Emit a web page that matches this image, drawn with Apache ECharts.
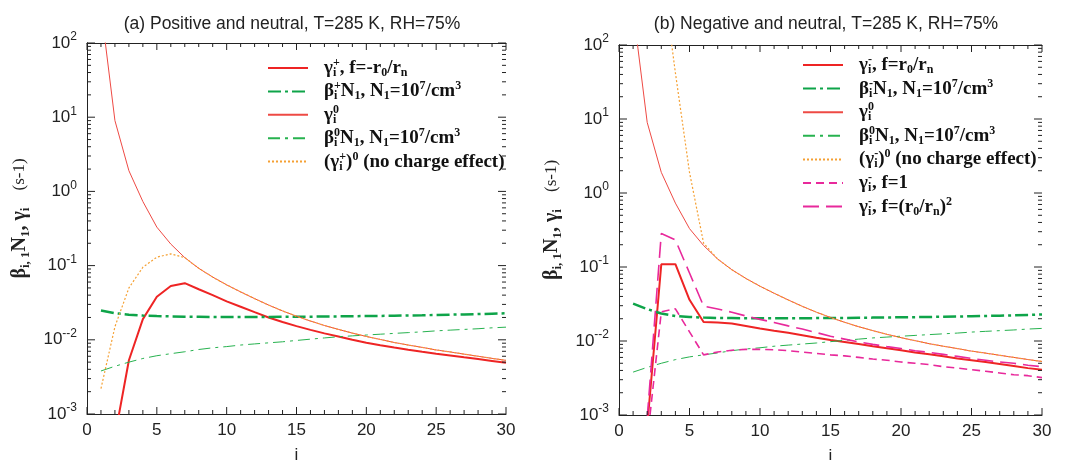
<!DOCTYPE html>
<html><head><meta charset="utf-8">
<script src="https://cdn.jsdelivr.net/npm/echarts@6/dist/echarts.min.js"></script>
<style>html,body{margin:0;padding:0;background:#fff;overflow:hidden}
#wrap{position:relative;width:1065px;height:460px}
#pa{position:absolute;left:0;top:0;width:532px;height:460px}
#pb{position:absolute;left:532px;top:0;width:533px;height:460px}</style>
</head><body><div id="wrap"><div id="pa"></div><div id="pb"></div></div>
<script>
// ---------- data ----------
const iVals = [1,2,3,4,5,6,7,8,9,10,11,12,13,14,15,16,17,18,19,20,21,22,23,24,25,26,27,28,29,30];

// shared neutral curves
const gamma0 = [300,9.0,1.9,0.73,0.33,0.195,0.128,0.092,0.070,0.055,0.0442,0.0359,0.0294,0.0245,0.0208,0.0179,0.0156,0.0138,0.0123,0.0111,0.0101,0.0092,0.0085,0.0079,0.0073,0.00686,0.00641,0.0060,0.00562,0.00528];
const beta0N1 = [0.0038,0.0044,0.0050,0.0056,0.0061,0.0065,0.0069,0.0074,0.0078,0.0081,0.0085,0.0088,0.0091,0.0094,0.0098,0.0102,0.0106,0.0110,0.0113,0.0116,0.0119,0.0122,0.0125,0.0128,0.0132,0.0135,0.0138,0.0141,0.0145,0.0148];

// (a) positive
const gammaPlus = [null,0.0005,0.0053,0.019,0.038,0.053,0.058,0.048,0.040,0.033,0.0279,0.0236,0.0200,0.0174,0.0153,0.0136,0.0122,0.0111,0.0100,0.0091,0.00845,0.00787,0.00736,0.0069,0.0065,0.00614,0.0058,0.0055,0.00519,0.0049];
const betaPlusN1 = [0.0248,0.0228,0.0218,0.0212,0.0209,0.0207,0.0205,0.0204,0.0203,0.0203,0.0203,0.0203,0.0203,0.0204,0.0204,0.0205,0.0206,0.0207,0.0208,0.0209,0.0210,0.0211,0.0213,0.0214,0.0216,0.0218,0.0220,0.0222,0.0225,0.0228];
const gammaPlusNoCharge = [0.0022,0.015,0.050,0.095,0.130,0.144,0.128,0.092,0.070,0.055,0.0442,0.0359,0.0294,0.0245,0.0208,0.0179,0.0156,0.0138,0.0123,0.0111,0.0101,0.0092,0.0085,0.0079,0.0073,0.00686,0.00641,0.0060,0.00562,0.00528];

// (b) negative
const gammaMinus = [null,0.0007,0.109,0.109,0.036,0.0181,0.0178,0.0172,0.0160,0.0148,0.0138,0.0129,0.0120,0.0111,0.0103,0.0097,0.0091,0.0085,0.0080,0.0075,0.0070,0.0066,0.0062,0.0058,0.0055,0.0052,0.0049,0.0046,0.0043,0.0041];
const betaMinusN1 = [0.032,0.027,0.0235,0.0218,0.0211,0.0207,0.0205,0.0204,0.0203,0.0203,0.0203,0.0203,0.0203,0.0204,0.0204,0.0205,0.0206,0.0207,0.0208,0.0209,0.0210,0.0211,0.0213,0.0214,0.0216,0.0218,0.0220,0.0222,0.0225,0.0228];
const gammaMinusNoCharge = [null,null,1200,42,1.9,0.21,0.128,0.092,0.070,0.055,0.0442,0.0359,0.0294,0.0245,0.0208,0.0179,0.0156,0.0138,0.0123,0.0111,0.0101,0.0092,0.0085,0.0079,0.0073,0.00686,0.00641,0.0060,0.00562,0.00528];
const gammaMinusF1 = [null,0.00045,0.0248,0.0272,0.0133,0.0065,0.0071,0.0075,0.0077,0.0077,0.0076,0.0074,0.0071,0.0068,0.0065,0.0063,0.0060,0.0057,0.0055,0.0052,0.0050,0.0048,0.0045,0.0043,0.0041,0.0039,0.0037,0.0035,0.0034,0.0032];
const gammaMinusF2 = [null,0.0009,0.284,0.232,0.083,0.0296,0.0270,0.0245,0.0218,0.0196,0.0178,0.0160,0.0145,0.0130,0.0116,0.0106,0.0097,0.0090,0.0084,0.0079,0.0074,0.0070,0.0066,0.0062,0.0058,0.0055,0.0052,0.0050,0.0047,0.0045];

// ticks / labels
const xMajorTicks = [0,5,10,15,20,25,30];
const xMinorTicks = [1,2,3,4,6,7,8,9,11,12,13,14,16,17,18,19,21,22,23,24,26,27,28,29];
const yMajorTicks = [0.001,0.01,0.1,1,10,100];
const yMinorTicks = [0.002,0.003,0.004,0.005,0.006,0.007,0.008,0.009,0.02,0.03,0.04,0.05,0.06,0.07,0.08,0.09,0.2,0.3,0.4,0.5,0.6,0.7,0.8,0.9,2,3,4,5,6,7,8,9,20,30,40,50,60,70,80,90];
const yExpLabels = {'2':'2','1':'1','0':'0','-1':'-1','-2':'--2','-3':'-3'};

const titles = ['(a) Positive and neutral, T=285 K, RH=75%','(b) Negative and neutral, T=285 K, RH=75%'];
const legendA = {
  a1: '{t|γ}{s0|i}{p|+}{t|, f=-r}{s|0}{t|/r}{s|n}',
  a2: '{t|β}{s0|i}{p|+}{t|N}{s|1}{t|, N}{s|1}{t|=10}{p|7}{t|/cm}{p|3}',
  a3: '{t|γ}{s0|i}{p|0}',
  a4: '{t|β}{s0|i}{p|0}{t|N}{s|1}{t|, N}{s|1}{t|=10}{p|7}{t|/cm}{p|3}',
  a5: '{t|(γ}{s0|i}{p|+}{t|)}{p|0}{t| (no charge effect)}'
};
const legendB = {
  b1: '{t|γ}{s0|i}{p|-}{t|, f=r}{s|0}{t|/r}{s|n}',
  b2: '{t|β}{s0|i}{p|-}{t|N}{s|1}{t|, N}{s|1}{t|=10}{p|7}{t|/cm}{p|3}',
  b3: '{t|γ}{s0|i}{p|0}',
  b4: '{t|β}{s0|i}{p|0}{t|N}{s|1}{t|, N}{s|1}{t|=10}{p|7}{t|/cm}{p|3}',
  b5: '{t|(γ}{s0|i}{p|-}{t|)}{p|0}{t| (no charge effect)}',
  b6: '{t|γ}{s0|i}{p|-}{t|, f=1}',
  b7: '{t|γ}{s0|i}{p|-}{t|, f=(r}{s|0}{t|/r}{s|n}{t|)}{p|2}'
};

// ---------- styles ----------
const C = { red:'#ee2424', red0:'#ee4a44', gThick:'#0ea449', gThin:'#27b24f', orange:'#f5a033', pink:'#e8299b', axis:'#222' };
const serif = 'Liberation Serif';
const sans = 'Liberation Sans';
const legendRich = {
  t: {fontFamily: serif, fontWeight:'bold', fontSize:19, lineHeight:22, color:'#111'},
  s: {fontFamily: serif, fontWeight:'bold', fontSize:12, lineHeight:11, verticalAlign:'bottom', color:'#111'},
  s0:{fontFamily: serif, fontWeight:'bold', fontSize:12, lineHeight:11, verticalAlign:'bottom', width:0, color:'#111'},
  p: {fontFamily: serif, fontWeight:'bold', fontSize:12, lineHeight:11, verticalAlign:'top', color:'#111'}
};
const pairs = arr => iVals.map((x,k) => [x, arr[k]]);

function line(name, arr, color, width, type) {
  return { name, type:'line', data: pairs(arr), symbol:'none', lineStyle:{color, width, type}, itemStyle:{color, opacity:0}, z:3 };
}
// inward tick marks on all four sides, placed through the axes' own scales
function tickSeries(w, h) {
  const ux = 30 / w, dec = 5 / h, pts = [];
  const seg = (a, b) => { pts.push(a, b, [b[0], null]); };
  const hTicks = (vals, len) => vals.forEach(v => { seg([0, v], [len*ux, v]); seg([30 - len*ux, v], [30, v]); });
  const vTicks = (vals, len) => vals.forEach(x => {
    seg([x, 0.001], [x, 0.001*Math.pow(10, len*dec)]);
    seg([x, 100/Math.pow(10, len*dec)], [x, 100]); });
  hTicks(yMajorTicks, 8); hTicks(yMinorTicks, 4);
  vTicks(xMajorTicks, 7); vTicks(xMinorTicks, 4);
  return { type:'line', data:pts, symbol:'none', silent:true, clip:false, connectNulls:false,
    lineStyle:{color:C.axis, width:1}, itemStyle:{opacity:0}, z:4 };
}
function xAxis(pos) {
  const labels = pos === 'bottom';
  return { type:'value', position:pos, min:0, max:30, interval:5,
    axisLine:{show:true, lineStyle:{color:C.axis, width:1}},
    axisTick:{show:false}, minorTick:{show:false}, splitLine:{show:false},
    name: labels ? 'i' : '', nameLocation:'middle', nameGap:33,
    nameTextStyle:{fontFamily:sans, fontSize:17, color:'#222'},
    axisLabel:{show:labels, fontFamily:sans, fontSize:17, color:'#222', margin:8} };
}
function yAxis(pos) {
  const labels = pos === 'left';
  const o = { type:'log', logBase:10, position:pos, min:0.001, max:100,
    axisLine:{show:true, lineStyle:{color:C.axis, width:1}},
    axisTick:{show:false}, splitLine:{show:false},
    axisLabel:{ show:labels, margin:10, color:'#222',
        formatter: v => '{b|10}{e|' + yExpLabels[String(Math.round(Math.log10(v)))] + '}',
        rich:{ b:{fontFamily:sans, fontSize:17, lineHeight:24, color:'#222'},
               e:{fontFamily:sans, fontSize:12, lineHeight:12, verticalAlign:'top', color:'#222'} } } };
  if (labels) {
    o.name = '{b|β}{s|i, 1}{b|N}{s|1}{b|, γ}{s|i}{r|    (s-1)}';
    o.nameLocation = 'middle';
    o.nameGap = 50;
    o.nameTextStyle = { padding:[0,0,0,20], rich:{
        b:{fontFamily:serif, fontWeight:'bold', fontSize:20, lineHeight:26, color:'#222'},
        s:{fontFamily:serif, fontWeight:'bold', fontSize:13, lineHeight:12, verticalAlign:'bottom', color:'#222'},
        r:{fontFamily:serif, fontSize:17, lineHeight:26, color:'#222'} } };
  }
  return o;
}
function panel(p) {
  return {
    backgroundColor:'#fff',
    animation:false,
    title: {text:p.title, left:p.titleX, top:15, textAlign:'center', padding:0,
      textStyle:{fontFamily:sans, fontSize:17.5, fontWeight:'normal', color:'#222'}},
    grid: {left:87, top:p.top, width:p.width, height:p.height, containLabel:false, outerBoundsMode:'none'},
    xAxis: [xAxis('bottom'), xAxis('top')],
    yAxis: [yAxis('left'), yAxis('right')],
    legend: { orient:'vertical', left:p.legendX, top:p.legendY, itemWidth:40, itemHeight:12, itemGap:p.gap, padding:0,
      selectedMode:false, itemStyle:{opacity:0}, data:Object.keys(p.labels), formatter: n => p.labels[n],
      textStyle:{padding:[0,0,0,11], rich:legendRich} },
    series: p.series.concat([tickSeries(p.width, p.height)])
  };
}

const optA = panel({ title:titles[0], titleX:292, top:43, width:419, height:371, legendX:267, legendY:57, gap:1.4, labels:legendA,
  series:[
    line('a1', gammaPlus, C.red, 2, 'solid'),
    line('a2', betaPlusN1, C.gThick, 2.5, [13,4,3,4]),
    line('a3', gamma0, C.red0, 1, 'solid'),
    line('a4', beta0N1, C.gThin, 1, [12,5,3,5]),
    line('a5', gammaPlusNoCharge, C.orange, 1.2, [2,2])
  ]});
const optB = panel({ title:titles[1], titleX:294, top:45, width:423, height:370, legendX:270, legendY:54, gap:1.6, labels:legendB,
  series:[
    line('b1', gammaMinus, C.red, 2, 'solid'),
    line('b2', betaMinusN1, C.gThick, 2.5, [13,4,3,4]),
    line('b3', gamma0, C.red0, 1, 'solid'),
    line('b4', beta0N1, C.gThin, 1, [12,5,3,5]),
    line('b5', gammaMinusNoCharge, C.orange, 1.2, [2,2]),
    line('b6', gammaMinusF1, C.pink, 1.6, [8,5]),
    line('b7', gammaMinusF2, C.pink, 1.6, [16,7])
  ]});
echarts.init(document.getElementById('pa')).setOption(optA);
echarts.init(document.getElementById('pb')).setOption(optB);
</script></body></html>
